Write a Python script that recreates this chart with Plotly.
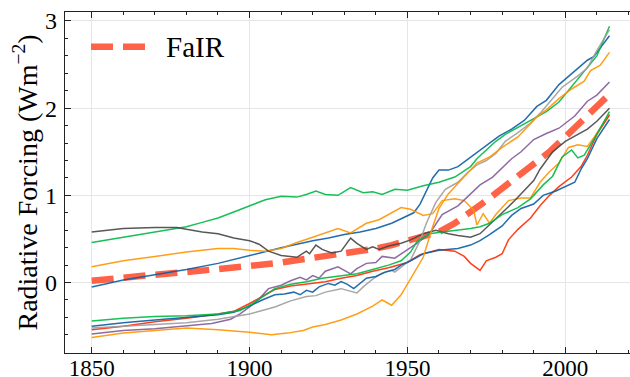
import plotly.graph_objects as go

# ---- model forcing time series (W m^-2) ----
blue_hi_years = [1850, 1860, 1870, 1880, 1890, 1900, 1905, 1910, 1915, 1920, 1925, 1930, 1935, 1940,
                 1945, 1950, 1952, 1954, 1956, 1958, 1960, 1963, 1966, 1970, 1973, 1976, 1979, 1983,
                 1987, 1991, 1994, 1998, 2003, 2007, 2009, 2011, 2014]
blue_hi_vals = [-0.05, 0.03, 0.09, 0.15, 0.22, 0.31, 0.36, 0.40, 0.44, 0.48, 0.51, 0.55, 0.58, 0.62,
                0.68, 0.77, 0.80, 0.90, 1.05, 1.20, 1.29, 1.29, 1.33, 1.44, 1.52, 1.60, 1.68, 1.76,
                1.86, 2.02, 2.09, 2.27, 2.42, 2.55, 2.59, 2.69, 2.83]

green_hi_years = [1850, 1860, 1870, 1880, 1885, 1890, 1895, 1900, 1905, 1910, 1915, 1918, 1921, 1924,
                  1928, 1932, 1936, 1939, 1942, 1946, 1950, 1955, 1960, 1965, 1968, 1970, 1972, 1975,
                  1978, 1981, 1985, 1988, 1991, 1994, 1998, 2002, 2006, 2010, 2014]
green_hi_vals = [0.46, 0.52, 0.58, 0.64, 0.69, 0.74, 0.81, 0.88, 0.95, 0.99, 0.98, 1.01, 1.05, 1.01,
                 1.00, 1.09, 1.03, 1.04, 1.01, 1.07, 1.06, 1.11, 1.15, 1.21, 1.28, 1.33, 1.42, 1.52,
                 1.62, 1.70, 1.78, 1.84, 1.90, 1.96, 2.07, 2.25, 2.43, 2.60, 2.94]

orange_hi_years = [1850, 1860, 1870, 1880, 1890, 1895, 1900, 1905, 1910, 1915, 1920, 1924, 1928, 1932,
                   1937, 1941, 1944, 1948, 1951, 1955, 1958, 1961, 1965, 1968, 1971, 1972, 1974, 1976,
                   1978, 1982, 1986, 1989, 1992, 1995, 1998, 2001, 2004, 2007, 2009, 2012, 2014]
orange_hi_vals = [0.18, 0.25, 0.30, 0.35, 0.39, 0.39, 0.37, 0.36, 0.39, 0.46, 0.52, 0.57, 0.62, 0.57,
                  0.68, 0.72, 0.78, 0.86, 0.84, 0.77, 0.79, 0.94, 0.96, 0.94, 0.83, 0.66, 0.79, 0.68,
                  0.78, 0.94, 0.97, 0.97, 1.15, 1.27, 1.37, 1.55, 1.58, 1.56, 1.66, 1.83, 1.93]

red_years = [1850, 1860, 1870, 1880, 1890, 1895, 1900, 1904, 1908, 1913, 1918, 1924, 1929, 1934,
             1939, 1944, 1950, 1954, 1960, 1965, 1968, 1970, 1973, 1975, 1978, 1980, 1982, 1985,
             1989, 1992, 1995, 1998, 2002, 2005, 2007, 2010, 2014]
red_vals = [-0.54, -0.50, -0.45, -0.41, -0.36, -0.33, -0.24, -0.16, -0.08, -0.04, -0.02, 0.01, 0.05, 0.08,
            0.13, 0.17, 0.23, 0.32, 0.38, 0.36, 0.30, 0.22, 0.14, 0.25, 0.29, 0.33, 0.49, 0.61,
            0.74, 0.88, 1.00, 1.10, 1.21, 1.33, 1.46, 1.70, 1.92]

purple_years = [1850, 1860, 1870, 1880, 1888, 1894, 1897, 1900, 1903, 1906, 1908, 1910, 1913, 1916,
                1918, 1920, 1922, 1924, 1928, 1930, 1932, 1934, 1937, 1940, 1942, 1946, 1949, 1951,
                1953, 1957, 1961, 1966, 1970, 1973, 1977, 1980, 1983, 1986, 1990, 1994, 1998, 2003,
                2007, 2010, 2014]
purple_vals = [-0.59, -0.55, -0.53, -0.50, -0.47, -0.42, -0.36, -0.28, -0.19, -0.07, -0.05, -0.03, 0.02, 0.06,
               0.03, 0.08, 0.05, 0.13, 0.18, 0.14, 0.10, 0.16, 0.22, 0.23, 0.30, 0.28, 0.35, 0.40,
               0.45, 0.56, 0.78, 0.88, 1.02, 1.12, 1.21, 1.31, 1.42, 1.50, 1.64, 1.71, 1.77, 1.91,
               2.08, 2.15, 2.30]

dgray_years = [1850, 1860, 1870, 1877, 1880, 1885, 1890, 1895, 1900, 1903, 1906, 1910, 1915, 1918,
               1919, 1921, 1923, 1926, 1929, 1932, 1934, 1937, 1939, 1941, 1944, 1948, 1951, 1955,
               1959, 1963, 1966, 1970, 1973, 1976, 1980, 1984, 1987, 1990, 1992, 1996, 2000, 2004,
               2007, 2010, 2014]
dgray_vals = [0.58, 0.62, 0.63, 0.63, 0.61, 0.58, 0.56, 0.51, 0.48, 0.44, 0.36, 0.31, 0.29, 0.36,
              0.33, 0.43, 0.38, 0.34, 0.36, 0.51, 0.45, 0.38, 0.41, 0.38, 0.42, 0.45, 0.49, 0.56,
              0.60, 0.56, 0.54, 0.52, 0.56, 0.66, 0.80, 0.94, 1.06, 1.17, 1.30, 1.50, 1.62, 1.70,
              1.76, 1.85, 2.00]

gray_years = [1850, 1860, 1870, 1880, 1890, 1895, 1900, 1904, 1908, 1913, 1918, 1921, 1924, 1929,
              1932, 1934, 1936, 1939, 1942, 1945, 1946, 1948, 1951, 1954, 1956, 1959, 1962, 1966,
              1969, 1972, 1975, 1978, 1981, 1985, 1989, 1992, 1995, 1999, 2004, 2007, 2010, 2014]
gray_vals = [-0.52, -0.50, -0.48, -0.46, -0.42, -0.39, -0.36, -0.32, -0.28, -0.21, -0.16, -0.15, -0.11, -0.07,
             -0.10, -0.12, -0.05, 0.04, 0.11, 0.14, 0.12, 0.18, 0.26, 0.48, 0.68, 0.92, 1.07, 1.15,
             1.26, 1.35, 1.40, 1.48, 1.62, 1.72, 1.83, 1.94, 2.07, 2.24, 2.37, 2.46, 2.66, 2.90]

blue_lo_years = [1850, 1860, 1870, 1880, 1890, 1895, 1900, 1904, 1908, 1911, 1914, 1916, 1918, 1920,
                 1922, 1925, 1927, 1929, 1931, 1933, 1935, 1937, 1940, 1943, 1946, 1948, 1951, 1955,
                 1960, 1966, 1970, 1973, 1976, 1980, 1983, 1986, 1990, 1993, 1997, 2000, 2003, 2005,
                 2007, 2010, 2014]
blue_lo_vals = [-0.50, -0.46, -0.43, -0.40, -0.37, -0.34, -0.27, -0.20, -0.14, -0.13, -0.11, -0.14, -0.09, -0.11,
                -0.05, -0.01, -0.03, 0.01, -0.02, -0.07, -0.01, 0.05, 0.07, 0.12, 0.15, 0.20, 0.25, 0.33,
                0.37, 0.39, 0.43, 0.48, 0.55, 0.65, 0.77, 0.85, 0.90, 1.00, 1.05, 1.10, 1.15, 1.30,
                1.42, 1.65, 1.87]

green_lo_years = [1850, 1860, 1870, 1880, 1890, 1897, 1901, 1905, 1908, 1913, 1918, 1923, 1928, 1934,
                  1939, 1944, 1948, 1951, 1953, 1957, 1961, 1966, 1970, 1973, 1976, 1980, 1985, 1989,
                  1993, 1996, 1999, 2002, 2004, 2006, 2010, 2014]
green_lo_vals = [-0.44, -0.41, -0.39, -0.38, -0.36, -0.32, -0.24, -0.14, -0.07, -0.02, 0.01, 0.05, 0.07, 0.10,
                 0.15, 0.20, 0.25, 0.35, 0.47, 0.56, 0.58, 0.60, 0.62, 0.64, 0.68, 0.78, 0.86, 0.96,
                 1.12, 1.22, 1.44, 1.52, 1.43, 1.46, 1.70, 1.96]

orange_lo_years = [1850, 1860, 1870, 1880, 1890, 1900, 1907, 1912, 1917, 1920, 1924, 1929, 1934, 1939,
                   1942, 1945, 1948, 1951, 1955, 1958, 1960, 1963, 1966, 1969, 1972, 1976, 1980, 1985,
                   1988, 1991, 1994, 1998, 2002, 2006, 2008, 2011, 2014]
orange_lo_vals = [-0.63, -0.58, -0.55, -0.52, -0.54, -0.57, -0.60, -0.58, -0.55, -0.51, -0.48, -0.43, -0.36, -0.27,
                  -0.20, -0.26, -0.14, 0.04, 0.29, 0.64, 0.85, 1.02, 1.14, 1.25, 1.37, 1.44, 1.55, 1.67,
                  1.79, 1.90, 1.98, 2.11, 2.22, 2.31, 2.43, 2.49, 2.64]

# ---- FaIR emulator ----
fair_years = [1850, 1860, 1870, 1880, 1890, 1900, 1910, 1920, 1930, 1940, 1945, 1950, 1955, 1960,
              1965, 1970, 1975, 1980, 1985, 1990, 1995, 2000, 2005, 2010, 2014]
fair_vals = [0.02, 0.06, 0.09, 0.12, 0.15, 0.19, 0.23, 0.28, 0.33, 0.39, 0.43, 0.48, 0.52, 0.58,
             0.68, 0.80, 0.94, 1.08, 1.22, 1.35, 1.50, 1.67, 1.85, 2.02, 2.16]

# colour cycle order of the model runs
models = [
    (blue_hi_years, blue_hi_vals, "#0C5DA5"),
    (green_hi_years, green_hi_vals, "#00B945"),
    (orange_hi_years, orange_hi_vals, "#FF9500"),
    (red_years, red_vals, "#FF2C00"),
    (purple_years, purple_vals, "#845B97"),
    (dgray_years, dgray_vals, "#474747"),
    (gray_years, gray_vals, "#9e9e9e"),
    (blue_lo_years, blue_lo_vals, "#0C5DA5"),
    (green_lo_years, green_lo_vals, "#00B945"),
    (orange_lo_years, orange_lo_vals, "#FF9500"),
]

FONT = "Liberation Serif"
AXIS = "#222222"

fig = go.Figure()

fig.add_trace(go.Scatter(
    x=fair_years, y=fair_vals, mode="lines", name="FaIR",
    line=dict(color="tomato", width=6.5, dash="22px,10px"),
    showlegend=False,
))

for yrs, vals, col in models:
    fig.add_trace(go.Scatter(
        x=yrs, y=vals, mode="lines",
        line=dict(color=col, width=1.5),
        opacity=0.9, showlegend=False, hoverinfo="skip",
    ))

# legend entry for the emulator
fig.add_shape(type="line", xref="paper", yref="paper",
              x0=0.046, x1=0.145, y0=0.898, y1=0.898,
              line=dict(color="tomato", width=6.5, dash="22px,10px"))
fig.add_annotation(text="FaIR", xref="paper", yref="paper", x=0.176, y=0.898,
                   xanchor="left", yanchor="middle", showarrow=False,
                   font=dict(family=FONT, size=29, color="black"))

# y-axis title, set beside the tick labels
fig.add_annotation(text="Radiative Forcing (Wm<sup>\u22122</sup>)",
                   xref="paper", yref="paper", x=-0.069, y=0.5,
                   xanchor="center", yanchor="middle", textangle=-90,
                   showarrow=False, font=dict(family=FONT, size=28, color="black"))

fig.update_layout(
    width=630, height=377,
    margin=dict(l=65, r=0, t=12, b=24, autoexpand=False),
    paper_bgcolor="white", plot_bgcolor="white",
    font=dict(family=FONT, color="black"),
    showlegend=False,
)

fig.update_xaxes(
    range=[1841.54, 2020.5], automargin=False,
    tickvals=[1850, 1900, 1950, 2000],
    ticks="inside", ticklen=6, tickwidth=1, tickcolor=AXIS,
    showline=True, linecolor=AXIS, linewidth=1.2, mirror="allticks",
    showgrid=True, gridcolor="#e6e6e6", gridwidth=1,
    zeroline=False, ticklabelstandoff=-6,
    tickfont=dict(family=FONT, size=23, color="black"),
    minor=dict(ticks="inside", ticklen=3, tickwidth=1, tickcolor=AXIS,
               tick0=1850, dtick=10, showgrid=False),
)

fig.update_yaxes(
    range=[-0.808, 3.103], automargin=False,
    tickvals=[0, 1, 2, 3],
    ticks="inside", ticklen=6, tickwidth=1, tickcolor=AXIS,
    showline=True, linecolor=AXIS, linewidth=1.2, mirror=False,
    showgrid=True, gridcolor="#e6e6e6", gridwidth=1,
    zeroline=False, ticklabelstandoff=2,
    tickfont=dict(family=FONT, size=24, color="black"),
    minor=dict(ticks="inside", ticklen=3, tickwidth=1, tickcolor=AXIS,
               tick0=0, dtick=0.2, showgrid=False),
)

fig.write_html("out.html")
